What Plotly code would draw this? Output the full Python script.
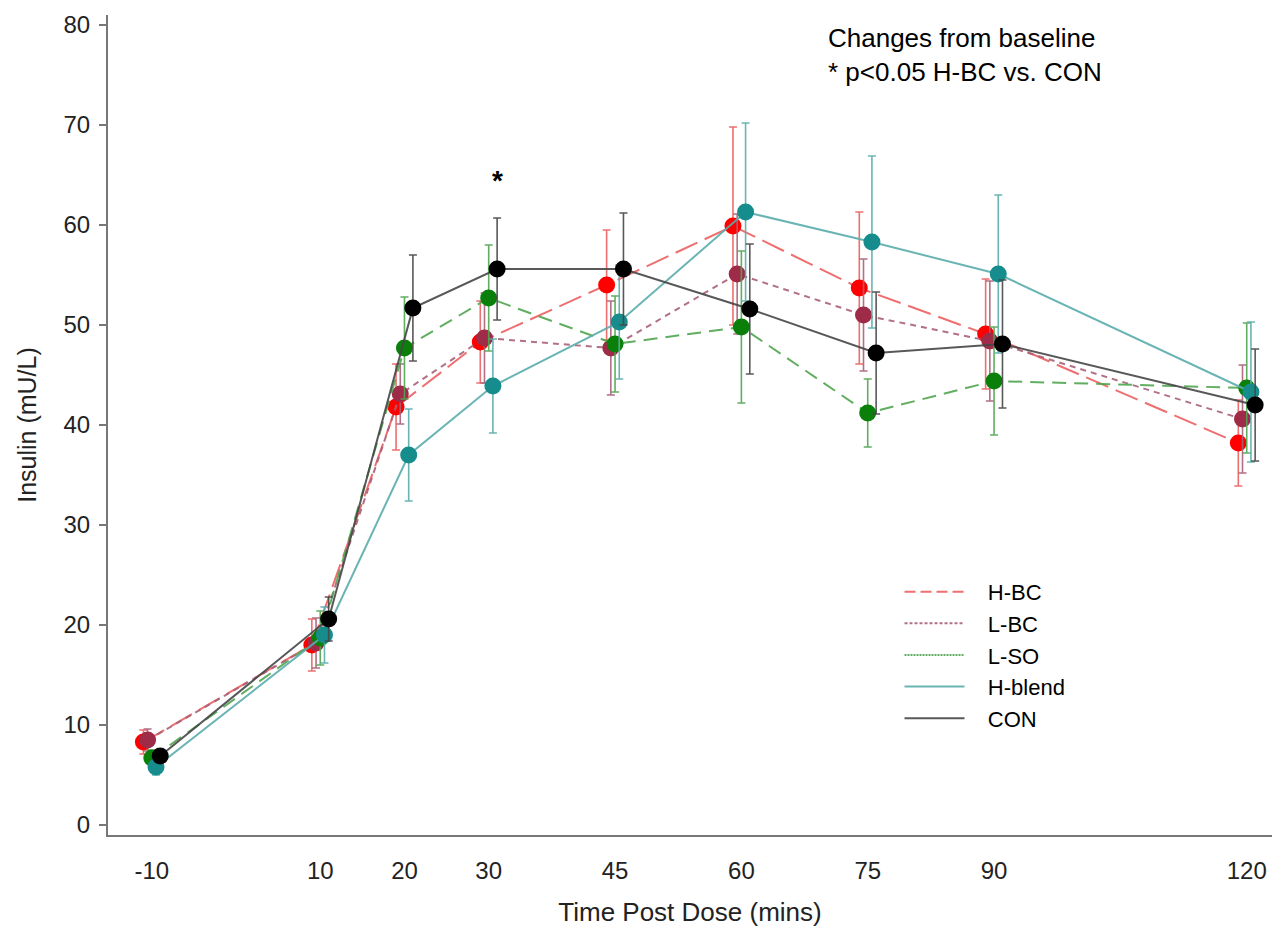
import plotly.graph_objects as go

# ---------------- data ----------------
times = [-10, 10, 20, 30, 45, 60, 75, 90, 120]
tick_labels = ["-10", "10", "20", "30", "45", "60", "75", "90", "120"]

series_names = ["H-BC", "L-BC", "L-SO", "H-blend", "CON"]

hbc = [8.3, 18.0, 41.8, 48.3, 54.0, 59.9, 53.7, 49.1, 38.2]
hbc_se = [1.2, 2.6, 4.3, 4.1, 5.5, 9.9, 7.6, 5.5, 4.3]
lbc = [8.5, 18.2, 43.1, 48.7, 47.7, 55.1, 51.0, 48.4, 40.6]
lbc_se = [1.1, 2.5, 3.0, 4.5, 4.7, 6.0, 5.6, 6.0, 5.4]
lso = [6.7, 18.7, 47.7, 52.7, 48.1, 49.8, 41.2, 44.4, 43.7]
lso_se = [0.8, 2.7, 5.1, 5.3, 4.8, 7.6, 3.4, 5.4, 6.5]
hblend = [5.8, 19.0, 37.0, 43.9, 50.3, 61.3, 58.3, 55.1, 43.3]
hblend_se = [0.8, 2.8, 4.6, 4.7, 5.7, 8.9, 8.6, 7.9, 7.0]
con = [6.9, 20.6, 51.7, 55.6, 55.6, 51.6, 47.2, 48.1, 42.0]
con_se = [0.6, 2.2, 5.3, 5.1, 5.6, 6.5, 6.1, 6.4, 5.6]

sig_times = [30]  # * p<0.05 H-BC vs. CON

# ---------------- styles ----------------
FONT = "Liberation Sans, Arial, sans-serif"
means = [hbc, lbc, lso, hblend, con]
ses = [hbc_se, lbc_se, lso_se, hblend_se, con_se]
dodge = [-1.0, -0.5, 0.0, 0.5, 1.0]
marker_cols = ["#FF0000", "#9E2B47", "#0A800A", "#178C8C", "#000000"]
line_cols = ["rgba(236,95,95,0.9)", "rgba(168,96,120,0.9)", "rgba(80,165,80,0.9)",
             "rgba(90,172,172,0.9)", "rgba(70,70,70,0.9)"]
plot_dash = ["24px,8px", "6px,5px", "14px,8px", "solid", "solid"]
legend_dash = ["11px,5px", "3px,2px", "2px,1px", "solid", "solid"]

fig = go.Figure()

for name, m, s, d, mc, lc, dash in zip(series_names, means, ses, dodge,
                                       marker_cols, line_cols, plot_dash):
    fig.add_trace(go.Scatter(
        x=[t + d for t in times], y=m,
        mode="lines+markers",
        line=dict(color=lc, width=2, dash=dash),
        marker=dict(color=mc, size=17, line=dict(width=0)),
        error_y=dict(type="data", array=s, visible=True, color=lc,
                     thickness=1.6, width=4),
        name=name, showlegend=False,
    ))

PAD = "\u00a0\u00a0\u00a0"
for name, lc, dash in zip(series_names, line_cols, legend_dash):
    fig.add_trace(go.Scatter(
        x=[None], y=[None], mode="lines",
        line=dict(color=lc, width=2, dash=dash),
        name=PAD + name, showlegend=True,
    ))

# significance star above CON at significant times
ci = series_names.index("CON")
for t in sig_times:
    k = times.index(t)
    fig.add_annotation(x=t + dodge[ci], y=con[k] + con_se[k], text="<b>*</b>",
                       showarrow=False, yshift=38,
                       font=dict(family=FONT, size=28, color="black"))

fig.add_annotation(xref="paper", yref="paper", x=0.617, y=0.993,
                   xanchor="left", yanchor="top", align="left", showarrow=False,
                   text="Changes from baseline<br>* p<0.05 H-BC vs. CON",
                   font=dict(family=FONT, size=26, color="black"))

fig.update_layout(
    width=1272, height=931,
    margin=dict(l=108, r=0, t=15, b=96),
    paper_bgcolor="white", plot_bgcolor="white",
    font=dict(family=FONT, size=24, color="#222"),
    legend=dict(x=0.68, y=0.322, xanchor="left", yanchor="top",
                bgcolor="rgba(0,0,0,0)", font=dict(family=FONT, size=22, color="black"),
                itemwidth=60, tracegroupgap=0),
    xaxis=dict(range=[-15.2, 123.0], tickmode="array", tickvals=times,
               ticktext=tick_labels, showgrid=False, zeroline=False,
               showline=True, linecolor="#777", linewidth=2, ticks="",
               ticklabelstandoff=13,
               tickfont=dict(family=FONT, size=24, color="#222"),
               title=dict(text="Time Post Dose (mins)", standoff=20,
                          font=dict(family=FONT, size=26, color="#222"))),
    yaxis=dict(range=[-1.0, 81.0], tickvals=[0, 10, 20, 30, 40, 50, 60, 70, 80],
               showgrid=False, zeroline=False, showline=True, linecolor="#777",
               linewidth=2, ticks="outside", ticklen=7, tickcolor="#777",
               tickwidth=1.5, ticklabelstandoff=4,
               tickfont=dict(family=FONT, size=24, color="#222"),
               title=dict(text="Insulin (mU/L)", standoff=20,
                          font=dict(family=FONT, size=25, color="#222"))),
)

fig.write_html("out.html")
